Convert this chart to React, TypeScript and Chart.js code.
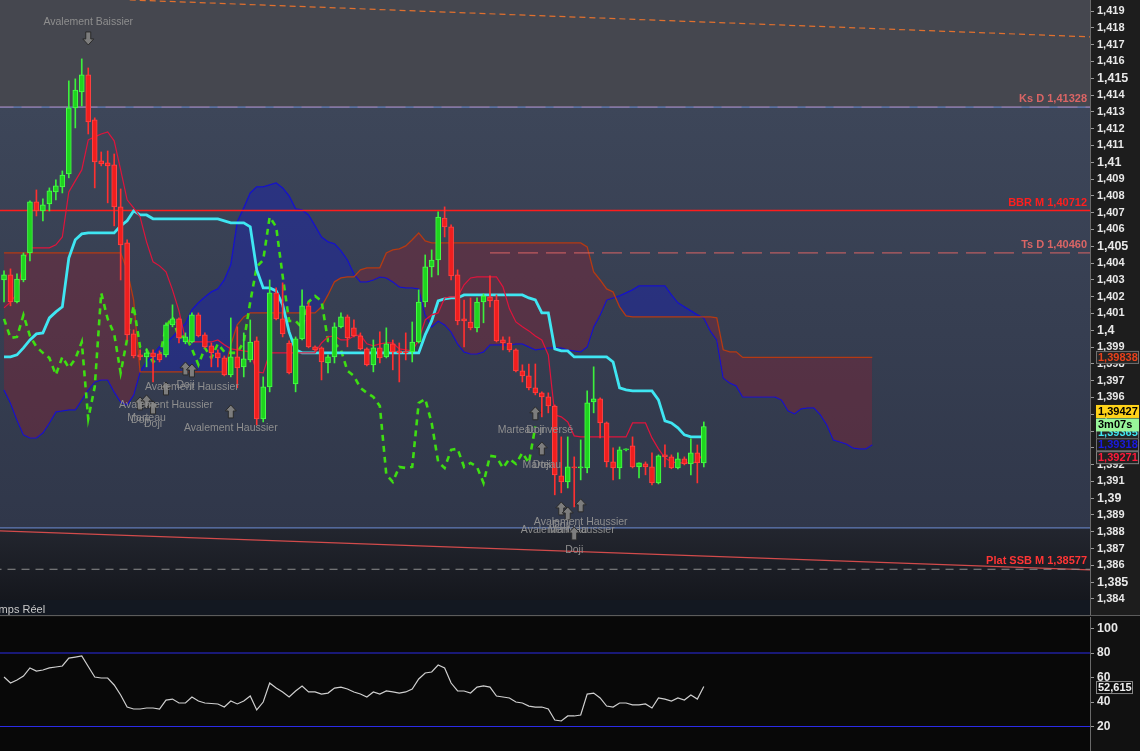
import React, { useEffect, useRef } from "react";
import { Chart, registerables } from "chart.js";

Chart.register(...registerables);

const FONT = 'Arial, "Liberation Sans", sans-serif';
Chart.defaults.font.family = FONT;

// axe des bougies : index 0 = première bougie visible, le nuage est décalé de 26 vers l'avant
const X_MIN = -0.62;
const X_MAX = 167.6;
const CHIKOU_SHIFT = 26;

const opens = [
  1.40299, 1.40329, 1.40168, 1.40299, 1.4046, 1.40764, 1.4071, 1.40752, 1.40823, 1.40853,
  1.4093, 1.41323, 1.41418, 1.4152, 1.41252, 1.41008, 1.40996, 1.40984, 1.40734, 1.4052,
  1.39978, 1.39853, 1.39841, 1.39865, 1.39859, 1.39853, 1.40032, 1.40067, 1.3993, 1.3993,
  1.40091, 1.39972, 1.39907, 1.39865, 1.39835, 1.39734, 1.39841, 1.39782, 1.39823, 1.39936,
  1.39472, 1.39663, 1.40222, 1.40067, 1.39924, 1.3968, 1.39948, 1.40145, 1.39901, 1.39895,
  1.39805, 1.39841, 1.4002, 1.40079, 1.40014, 1.39966, 1.39889, 1.39794, 1.39895, 1.39841,
  1.39919, 1.39877, 1.39871, 1.39871, 1.3993, 1.40168, 1.40377, 1.40418, 1.40668, 1.40615,
  1.40329, 1.40067, 1.40049, 1.40014, 1.40168, 1.40198, 1.4018, 1.39942, 1.39924, 1.39883,
  1.39758, 1.39728, 1.39657, 1.39627, 1.39603, 1.39549, 1.39133, 1.39097, 1.39186, 1.3918,
  1.3918, 1.39573, 1.39591, 1.39448, 1.39216, 1.3918, 1.39288, 1.39311, 1.39186, 1.39204,
  1.39186, 1.39091, 1.39258, 1.39246, 1.3918, 1.39234, 1.39204, 1.3927, 1.3921,
];
const highs = [
  1.40353, 1.40365, 1.40335, 1.4046, 1.4077, 1.40835, 1.40782, 1.40847, 1.40895, 1.40948,
  1.41484, 1.41496, 1.41615, 1.41561, 1.41264, 1.41061, 1.41067, 1.41049, 1.40841, 1.40538,
  1.40002, 1.39883, 1.39889, 1.39883, 1.39877, 1.40044, 1.40151, 1.40073, 1.39984, 1.40103,
  1.40103, 1.39984, 1.39924, 1.39883, 1.39847, 1.40073, 1.4002, 1.39984, 1.40061, 1.3996,
  1.39722, 1.40299, 1.40252, 1.40282, 1.39936, 1.3996, 1.4024, 1.40163, 1.39907, 1.39901,
  1.39853, 1.40044, 1.40103, 1.40091, 1.40061, 1.39984, 1.39895, 1.39942, 1.3999, 1.40014,
  1.39942, 1.39924, 1.39984, 1.40049, 1.4024, 1.40448, 1.40478, 1.40704, 1.40734, 1.40627,
  1.40359, 1.4018, 1.40192, 1.40192, 1.40216, 1.40323, 1.4021, 1.3996, 1.3996, 1.39889,
  1.39794, 1.39799, 1.39799, 1.39633, 1.39627, 1.39555, 1.39365, 1.39365, 1.39246, 1.39347,
  1.39639, 1.39782, 1.39597, 1.39454, 1.393, 1.39305, 1.39294, 1.39365, 1.3921, 1.39216,
  1.3927, 1.39258, 1.39317, 1.39258, 1.3927, 1.39246, 1.39353, 1.39317, 1.39454,
];
const lows = [
  1.40168, 1.40145, 1.40163, 1.40288, 1.40413, 1.4068, 1.40651, 1.4071, 1.40776, 1.40817,
  1.40907, 1.41204, 1.41335, 1.41168, 1.40847, 1.40978, 1.40758, 1.40621, 1.40299, 1.39942,
  1.39835, 1.39823, 1.39782, 1.39692, 1.39811, 1.39841, 1.4002, 1.39924, 1.39919, 1.39924,
  1.3996, 1.39895, 1.39782, 1.39782, 1.39728, 1.39722, 1.39657, 1.39722, 1.39811, 1.39436,
  1.39454, 1.39633, 1.40061, 1.3996, 1.3974, 1.39633, 1.39942, 1.39895, 1.39877, 1.39704,
  1.39746, 1.39805, 1.40014, 1.39901, 1.3996, 1.39883, 1.39788, 1.39752, 1.39805, 1.39835,
  1.39764, 1.39692, 1.39823, 1.39811, 1.39924, 1.40139, 1.40317, 1.40329, 1.40555, 1.40299,
  1.40032, 1.39901, 1.40002, 1.3999, 1.40044, 1.40139, 1.3993, 1.39883, 1.39871, 1.39752,
  1.39692, 1.39645, 1.39615, 1.39484, 1.39508, 1.3902, 1.39032, 1.39061, 1.38948, 1.39109,
  1.39151, 1.39508, 1.39359, 1.39186, 1.39109, 1.39115, 1.39282, 1.3918, 1.39121, 1.39139,
  1.39079, 1.39085, 1.39186, 1.39175, 1.39175, 1.39198, 1.39139, 1.39091, 1.39186,
];
const closes = [
  1.40329, 1.40168, 1.40305, 1.40448, 1.40764, 1.4071, 1.40746, 1.40829, 1.40859, 1.40924,
  1.41323, 1.4143, 1.4152, 1.4124, 1.41002, 1.4099, 1.40978, 1.40734, 1.40508, 1.39972,
  1.39847, 1.39841, 1.39865, 1.39841, 1.39823, 1.40032, 1.40067, 1.39954, 1.3996, 1.40091,
  1.39966, 1.39901, 1.39865, 1.39835, 1.39734, 1.39841, 1.39776, 1.39829, 1.3993, 1.39472,
  1.39663, 1.40222, 1.40067, 1.39978, 1.39746, 1.39948, 1.40145, 1.39901, 1.39883, 1.39811,
  1.39841, 1.4002, 1.40079, 1.39954, 1.39966, 1.39889, 1.39794, 1.39895, 1.39835, 1.39919,
  1.39871, 1.39865, 1.39865, 1.3993, 1.40168, 1.40377, 1.40418, 1.40674, 1.40615, 1.40323,
  1.40055, 1.40055, 1.40014, 1.40168, 1.40204, 1.40174, 1.39936, 1.39924, 1.39883, 1.39758,
  1.39728, 1.39657, 1.39627, 1.39603, 1.39549, 1.39139, 1.39097, 1.39186, 1.3918, 1.39186,
  1.39567, 1.39591, 1.39448, 1.39216, 1.3918, 1.39288, 1.39294, 1.39186, 1.3921, 1.39186,
  1.39091, 1.39252, 1.39246, 1.3918, 1.39234, 1.39204, 1.3927, 1.3921, 1.39427,
];

const tenkan = [
  1.40133, 1.40168, 1.40216, 1.40407, 1.4049, 1.4049, 1.4049, 1.4049, 1.40508, 1.40555,
  1.40823, 1.40889, 1.40954, 1.41133, 1.41151, 1.41168, 1.4118, 1.41127, 1.40954, 1.40776,
  1.40728, 1.40674, 1.40526, 1.40407, 1.40383, 1.40347, 1.4024, 1.40115, 1.39942, 1.3993,
  1.3993, 1.3993, 1.3993, 1.39942, 1.39913, 1.39889, 1.39883, 1.39877, 1.39871, 1.39752,
  1.39746, 1.39865, 1.39865, 1.39865, 1.39865, 1.39865, 1.39865, 1.39865, 1.39865, 1.39924,
  1.3996, 1.39966, 1.39942, 1.39942, 1.39966, 1.39972, 1.39919, 1.39907, 1.39919, 1.39924,
  1.39924, 1.39889, 1.39883, 1.39877, 1.39942, 1.40061, 1.40091, 1.40103, 1.40192, 1.40198,
  1.40198, 1.4027, 1.40311, 1.40317, 1.40317, 1.40317, 1.40317, 1.40258, 1.40127, 1.40049,
  1.4002, 1.39996, 1.39966, 1.39942, 1.39853, 1.39496, 1.39484, 1.39454, 1.39371, 1.39365,
  1.39365, 1.39365, 1.39365, 1.39365, 1.39365, 1.39365, 1.39365, 1.39448, 1.39448, 1.39448,
  1.39359, 1.39294, 1.3924, 1.39216, 1.3921, 1.3921, 1.3921, 1.39216, 1.39271,
];
const kijun = [
  1.39841, 1.39841, 1.39853, 1.39895, 1.39942, 1.39978, 1.39984, 1.40073, 1.40109, 1.40139,
  1.4043, 1.40538, 1.40573, 1.40579, 1.40579, 1.40579, 1.40579, 1.40579, 1.40621, 1.40651,
  1.4071, 1.40686, 1.40686, 1.40663, 1.40663, 1.40663, 1.40663, 1.40663, 1.40663, 1.40663,
  1.40663, 1.40663, 1.40663, 1.40663, 1.40651, 1.40639, 1.40639, 1.40639, 1.40615, 1.40359,
  1.40252, 1.40252, 1.40234, 1.40151, 1.3999, 1.39883, 1.39865, 1.39865, 1.39865, 1.39865,
  1.39865, 1.39865, 1.39865, 1.39865, 1.39865, 1.39865, 1.39865, 1.39865, 1.39865, 1.39865,
  1.39865, 1.39865, 1.39865, 1.39865, 1.39865, 1.39972, 1.40055, 1.40174, 1.40186, 1.40192,
  1.40192, 1.4021, 1.4021, 1.4021, 1.4021, 1.4021, 1.4021, 1.4021, 1.4021, 1.4021,
  1.4021, 1.40192, 1.4018, 1.40103, 1.40103, 1.39889, 1.39877, 1.39877, 1.39841, 1.39841,
  1.39841, 1.39841, 1.39841, 1.39841, 1.39811, 1.39657, 1.39645, 1.39639, 1.39639, 1.39639,
  1.39639, 1.39585, 1.3946, 1.39448, 1.39419, 1.39377, 1.39365, 1.39365, 1.39365,
];
const senkouA = [
  1.4046, 1.4046, 1.4046, 1.4046, 1.4046, 1.4046, 1.4046, 1.4046, 1.4046, 1.4046,
  1.4046, 1.4046, 1.4046, 1.4046, 1.4046, 1.4046, 1.4046, 1.4046, 1.4046, 1.40359,
  1.4018, 1.39752, 1.39752, 1.39752, 1.39752, 1.39752, 1.39752, 1.39752, 1.39752, 1.39752,
  1.39752, 1.39752, 1.39752, 1.39752, 1.39752, 1.39913, 1.40032, 1.40079, 1.40103, 1.40103,
  1.40103, 1.40103, 1.40103, 1.40103, 1.40103, 1.40103, 1.40103, 1.40103, 1.40103, 1.40139,
  1.4021, 1.40288, 1.40311, 1.40317, 1.40317, 1.40359, 1.40371, 1.40371, 1.40371, 1.4046,
  1.40478, 1.40484, 1.40502, 1.40538, 1.40579, 1.40532, 1.4052, 1.4052, 1.4052, 1.4052,
  1.4052, 1.4052, 1.4052, 1.4052, 1.4052, 1.4052, 1.4052, 1.4052, 1.4052, 1.4052,
  1.4052, 1.4052, 1.4052, 1.4052, 1.4052, 1.4052, 1.4052, 1.4052, 1.4052, 1.4052,
  1.40496, 1.40347, 1.40299, 1.40246, 1.40228, 1.40139, 1.40085, 1.40079, 1.40079, 1.40079,
  1.40079, 1.40079, 1.40079, 1.40079, 1.40079, 1.40079, 1.40079, 1.40079, 1.40079, 1.40079,
  1.40073, 1.39883, 1.39871, 1.39871, 1.39838, 1.39838, 1.39838, 1.39838, 1.39838, 1.39838,
  1.39838, 1.39838, 1.39838, 1.39838, 1.39838, 1.39838, 1.39838, 1.39838, 1.39838, 1.39838,
  1.39838, 1.39838, 1.39838, 1.39838, 1.39838,
];
const senkouB = [
  1.39645, 1.39567, 1.39466, 1.39377, 1.39359, 1.39359, 1.39389, 1.39448, 1.39514, 1.3952,
  1.39526, 1.39526, 1.39585, 1.39645, 1.39692, 1.39704, 1.39704, 1.39633, 1.39573, 1.39555,
  1.39615, 1.39752, 1.39811, 1.39853, 1.39901, 1.39924, 1.3996, 1.40002, 1.40038, 1.40121,
  1.40163, 1.40198, 1.40228, 1.40246, 1.40299, 1.40389, 1.40645, 1.40728, 1.40817, 1.40853,
  1.40853, 1.40865, 1.40877, 1.40847, 1.40799, 1.40722, 1.40716, 1.40686, 1.40621, 1.40555,
  1.40526, 1.40514, 1.40472, 1.40418, 1.40335, 1.40288, 1.40288, 1.40299, 1.40317, 1.40311,
  1.40288, 1.40258, 1.40252, 1.40252, 1.40246, 1.40091, 1.4002, 1.40055, 1.40032, 1.3999,
  1.39919, 1.39871, 1.39859, 1.39859, 1.39871, 1.39913, 1.39913, 1.39913, 1.39913, 1.39919,
  1.39919, 1.39901, 1.39883, 1.39889, 1.39895, 1.39895, 1.39895, 1.39883, 1.39877, 1.39871,
  1.39901, 1.4002, 1.40091, 1.4018, 1.40192, 1.40204, 1.40222, 1.4024, 1.40264, 1.40264,
  1.40264, 1.40264, 1.40264, 1.4021, 1.40163, 1.40139, 1.40115, 1.40091, 1.40073, 1.39996,
  1.39942, 1.39716, 1.39686, 1.39669, 1.39603, 1.39603, 1.39603, 1.39603, 1.39603, 1.39603,
  1.39585, 1.3952, 1.39502, 1.39532, 1.39538, 1.39538, 1.39496, 1.39436, 1.39347, 1.39335,
  1.39323, 1.393, 1.39294, 1.39294, 1.39318,
];

const rsi = [
  60.4, 55.5, 58.0, 61.2, 67.8, 65.3, 66.1, 67.8, 68.6, 69.4,
  75.9, 76.7, 77.6, 69.0, 60.4, 59.6, 59.6, 53.9, 45.7, 35.9,
  34.3, 34.3, 35.1, 35.1, 34.3, 41.6, 42.4, 39.2, 39.2, 44.1,
  40.8, 39.2, 38.8, 38.4, 35.9, 40.8, 38.4, 40.8, 44.9, 33.5,
  40.0, 55.5, 51.4, 48.2, 44.1, 49.0, 53.1, 48.2, 48.2, 46.5,
  47.3, 51.4, 52.2, 50.6, 48.2, 46.5, 44.1, 48.2, 46.5, 49.0,
  48.2, 47.3, 48.2, 50.6, 58.8, 63.7, 64.5, 70.2, 67.8, 55.5,
  49.0, 49.0, 47.3, 52.2, 53.1, 52.2, 44.9, 44.1, 43.3, 40.0,
  39.2, 36.7, 35.9, 35.9, 34.3, 25.3, 24.5, 28.6, 28.6, 29.4,
  46.5, 47.3, 43.3, 36.7, 35.9, 39.2, 39.2, 37.6, 37.6, 38.4,
  35.1, 43.3, 42.4, 40.8, 43.3, 41.6, 45.7, 42.4, 52.615,
];

const priceTicks = [
  1.384, 1.385, 1.386, 1.387, 1.388, 1.389, 1.39, 1.391, 1.392, 1.393, 1.394, 1.395,
  1.396, 1.397, 1.398, 1.399, 1.4, 1.401, 1.402, 1.403, 1.404, 1.405, 1.406, 1.407,
  1.408, 1.409, 1.41, 1.411, 1.412, 1.413, 1.414, 1.415, 1.416, 1.417, 1.418, 1.419,
];
const rsiTicks = [20, 40, 60, 80, 100];
const rsiLevels = [80, 20];

// niveaux horizontaux
const levelNames = ["Ks D", "BBR M", "Ts D", "Plat SSB M"];
const levelValues = [1.41328, 1.40712, 1.4046, 1.38577];
const levelColors = ["#da6565", "#ff1e1e", "#da6565", "#ff3535"];
const zoneHigh = 1.41328;
const zoneLow = 1.38823;
const tsStart = 75;

const orangeTrend = [
  { x: 19.4, y: 1.41966 },
  { x: 167.6, y: 1.41746 },
];
const redTrend = [
  { x: -0.62, y: 1.38805 },
  { x: 167.6, y: 1.38573 },
];

const patterns = [
  { i: 13, price: 1.41698, dir: "down", labels: ["Avalement Baissier"] },
  { i: 21, price: 1.39603, dir: "up", labels: ["Doji"] },
  { i: 22, price: 1.39615, dir: "up", labels: ["Marteau"] },
  { i: 23, price: 1.39579, dir: "up", labels: ["Doji"] },
  { i: 25, price: 1.39692, dir: "up", labels: ["Avalement Haussier"] },
  { i: 28, price: 1.39811, dir: "up", labels: ["Doji"] },
  { i: 29, price: 1.39799, dir: "up", labels: ["Avalement Haussier"] },
  { i: 35, price: 1.39555, dir: "up", labels: ["Avalement Haussier"] },
  { i: 82, price: 1.39544, dir: "up", labels: ["Marteau inversé", "Doji"] },
  { i: 83, price: 1.39335, dir: "up", labels: ["Marteau", "Doji"] },
  { i: 86, price: 1.38978, dir: "up", labels: ["Doji"] },
  { i: 87, price: 1.38948, dir: "up", labels: ["Avalement Haussier", "Marteau"] },
  { i: 88, price: 1.38829, dir: "up", labels: ["Doji"] },
  { i: 89, price: 1.38996, dir: "up", labels: ["Avalement Haussier"] },
];

const timerText = "3m07s";
const panelTitle = "Temps Réel";

const RED_CLOUD = "rgba(130, 35, 55, 0.42)";
const BLUE_CLOUD = "rgba(22, 32, 185, 0.42)";

const fmt5 = (v: number) => v.toFixed(5).replace(".", ",");
const fmtTick = (v: number) =>
  v.toFixed(3).replace(/0+$/, "").replace(/\.$/, "").replace(".", ",");
const pts = (arr: number[], from = 0) => arr.map((v, i) => ({ x: i + from, y: v }));
const hline = (v: number, from = X_MIN - 1, to = X_MAX + 1) => [
  { x: from, y: v },
  { x: to, y: v },
];

function fixAxis(scale: any) {
  scale.width = 50;
  scale.paddingTop = 0;
  scale.paddingBottom = 0;
}

function drawTag(ctx: CanvasRenderingContext2D, x: number, cy: number, w: number, text: string, bg: string, fg: string, border?: string) {
  ctx.fillStyle = bg;
  ctx.fillRect(x, cy - 6.5, w, 13);
  if (border) {
    ctx.strokeStyle = border;
    ctx.lineWidth = 1;
    ctx.strokeRect(x + 0.5, cy - 6, w - 1, 12);
  }
  ctx.fillStyle = fg;
  ctx.font = `bold 11px ${FONT}`;
  ctx.textAlign = "left";
  ctx.textBaseline = "middle";
  ctx.fillText(text, x + 2, cy + 0.5);
}

function drawArrow(ctx: CanvasRenderingContext2D, x: number, tip: number, dir: string) {
  const s = dir === "up" ? 1 : -1;
  ctx.beginPath();
  ctx.moveTo(x, tip);
  ctx.lineTo(x + 5.5, tip + 6 * s);
  ctx.lineTo(x + 2.5, tip + 6 * s);
  ctx.lineTo(x + 2.5, tip + 13 * s);
  ctx.lineTo(x - 2.5, tip + 13 * s);
  ctx.lineTo(x - 2.5, tip + 6 * s);
  ctx.lineTo(x - 5.5, tip + 6 * s);
  ctx.closePath();
  ctx.fillStyle = "#7d7d7d";
  ctx.fill();
  ctx.strokeStyle = "#2a2a2a";
  ctx.lineWidth = 1;
  ctx.stroke();
}

const tickValue = (c: any) => (c && c.tick ? Number(c.tick.value) : 0);

const mainBg = {
  id: "mainBg",
  beforeDraw(chart: any) {
    const { ctx, width, height, chartArea: a, scales } = chart;
    const yHi = scales.y.getPixelForValue(zoneHigh);
    const yLo = scales.y.getPixelForValue(zoneLow);
    const strip = a.bottom - 16;
    ctx.save();
    ctx.fillStyle = "#1d1d1d";
    ctx.fillRect(0, 0, width, height);
    ctx.fillStyle = "#45474f";
    ctx.fillRect(a.left, a.top, a.width, yHi - a.top);
    let g = ctx.createLinearGradient(0, yHi, 0, yLo);
    g.addColorStop(0, "#3d4659");
    g.addColorStop(1, "#30374a");
    ctx.fillStyle = g;
    ctx.fillRect(a.left, yHi, a.width, yLo - yHi);
    g = ctx.createLinearGradient(0, yLo, 0, strip);
    g.addColorStop(0, "#23262f");
    g.addColorStop(1, "#15171d");
    ctx.fillStyle = g;
    ctx.fillRect(a.left, yLo, a.width, strip - yLo);
    // bandeau du panneau inférieur
    ctx.fillStyle = "#131821";
    ctx.fillRect(a.left, strip, a.width, a.bottom - strip);
    ctx.fillStyle = "#c9c9c9";
    ctx.font = `11px ${FONT}`;
    ctx.textAlign = "left";
    ctx.textBaseline = "alphabetic";
    ctx.fillText(panelTitle, -13, a.bottom - 3);
    ctx.restore();
  },
};

const mainOverlay = {
  id: "mainOverlay",
  afterDatasetsDraw(chart: any) {
    const { ctx, chartArea: a, scales } = chart;
    const x = scales.x;
    const y = scales.y;
    ctx.save();
    // noms des niveaux
    ctx.font = `bold 11px ${FONT}`;
    ctx.textAlign = "right";
    ctx.textBaseline = "alphabetic";
    levelValues.forEach((v, k) => {
      ctx.fillStyle = levelColors[k];
      ctx.fillText(`${levelNames[k]} ${fmt5(v)}`, a.right - 3, y.getPixelForValue(v) - 5);
    });
    // figures de chandeliers
    ctx.font = `10.5px ${FONT}`;
    ctx.textAlign = "center";
    ctx.textBaseline = "middle";
    patterns.forEach((p) => {
      const px = x.getPixelForValue(p.i);
      const tip = y.getPixelForValue(p.price);
      drawArrow(ctx, px, tip, p.dir);
      const ty = p.dir === "up" ? tip + 23 : tip - 23;
      ctx.fillStyle = "#8e8e8e";
      p.labels.forEach((t) => ctx.fillText(t, px, ty));
    });
    ctx.restore();
  },
  afterDraw(chart: any) {
    const { ctx, width, chartArea: a, scales } = chart;
    const y = scales.y;
    const last = closes[closes.length - 1];
    const ssa = senkouA[senkouA.length - 1];
    const ssb = senkouB[senkouB.length - 1];
    const kij = kijun[kijun.length - 1];
    const ten = tenkan[tenkan.length - 1];
    const x0 = 1096;
    ctx.save();
    drawTag(ctx, x0, y.getPixelForValue(ssa), 43, fmt5(ssa), "#242424", "#e8401a", "#707070");
    drawTag(ctx, x0, y.getPixelForValue(kij) - 4, 43, fmt5(kij), "#242424", "#3fe7f2", "#707070");
    drawTag(ctx, x0, y.getPixelForValue(ssb), 43, fmt5(ssb), "#1c1c1c", "#1a1ae0", "#707070");
    drawTag(ctx, x0, y.getPixelForValue(ten) + 5, 43, fmt5(ten), "#222222", "#ff1a3a", "#808080");
    drawTag(ctx, x0, y.getPixelForValue(last) - 1.5, 43, timerText, "#98f59a", "#000000");
    drawTag(ctx, x0, y.getPixelForValue(last) - 15, 43, fmt5(last), "#ffd319", "#000000");
    // séparateur avec le panneau RSI
    ctx.fillStyle = "#5c5c5c";
    ctx.fillRect(0, a.bottom - 1, width, 1);
    ctx.restore();
  },
};

const rsiBg = {
  id: "rsiBg",
  beforeDraw(chart: any) {
    const { ctx, width, height, chartArea: a } = chart;
    ctx.save();
    ctx.fillStyle = "#111111";
    ctx.fillRect(0, 0, width, height);
    ctx.fillStyle = "#080808";
    ctx.fillRect(a.left, a.top, a.width, a.height);
    ctx.restore();
  },
  afterDraw(chart: any) {
    const { ctx, scales } = chart;
    const v = rsi[rsi.length - 1];
    ctx.save();
    drawTag(ctx, 1096, scales.y.getPixelForValue(v) + 1, 37, v.toFixed(3).replace(".", ","), "#0d0d0d", "#f0f0f0", "#8a8a8a");
    ctx.restore();
  },
};

function mainConfig() {
  const up = closes.map((c, i) => c >= opens[i]);
  const levelLine = (data: any[], color: string, width: number, dash: number[] = []) => ({
    type: "line",
    data,
    borderColor: color,
    borderWidth: width,
    borderDash: dash,
    pointRadius: 0,
    fill: false,
    order: 3,
  });
  return {
    type: "bar",
    data: {
      datasets: [
        {
          type: "bar",
          data: opens.map((o, i) => ({ x: i, y: [o, closes[i]] })),
          backgroundColor: up.map((u) => (u ? "#1fd41f" : "#f01e1e")),
          borderColor: up.map((u) => (u ? "#48ff48" : "#ff4444")),
          borderWidth: 1,
          borderSkipped: false,
          barThickness: 5,
          minBarLength: 1,
          grouped: false,
          order: 0,
        },
        {
          type: "bar",
          data: lows.map((l, i) => ({ x: i, y: [l, highs[i]] })),
          backgroundColor: up.map((u) => (u ? "#3cf03c" : "#ff3030")),
          borderWidth: 0,
          barThickness: 1,
          grouped: false,
          order: 1,
        },
        {
          type: "line",
          data: pts(tenkan),
          borderColor: "#e0143c",
          borderWidth: 1.2,
          pointRadius: 0,
          order: 2,
        },
        {
          type: "line",
          data: pts(kijun),
          borderColor: "#3fe6f2",
          borderWidth: 2.8,
          pointRadius: 0,
          order: 2,
        },
        {
          type: "line",
          data: pts(closes.slice(CHIKOU_SHIFT)),
          borderColor: "#3ede12",
          borderWidth: 2.6,
          borderDash: [6, 5],
          pointRadius: 0,
          order: 2,
        },
        {
          type: "line",
          data: pts(senkouA),
          borderColor: "#b53a12",
          borderWidth: 1.3,
          pointRadius: 0,
          fill: { target: "+1", above: RED_CLOUD, below: BLUE_CLOUD },
          order: 4,
        },
        {
          type: "line",
          data: pts(senkouB),
          borderColor: "#1010d8",
          borderWidth: 1.3,
          pointRadius: 0,
          fill: false,
          order: 4,
        },
        levelLine(hline(levelValues[0]), "#6f8fd8", 1),
        levelLine(hline(levelValues[0]), "#da6565", 1, [20, 8]),
        levelLine(hline(levelValues[1]), "#ff1c1c", 1.5),
        levelLine(hline(levelValues[2], tsStart), "#da6565", 1, [20, 8]),
        levelLine(hline(zoneLow), "#6f8fd8", 1),
        levelLine(hline(levelValues[3]), "#8e8e8e", 1, [8, 6]),
        levelLine(redTrend, "#d24b4b", 1.2),
        levelLine(orangeTrend, "#e0702e", 1.2, [6, 4]),
      ],
    },
    options: {
      animation: false,
      responsive: false,
      events: [],
      layout: { padding: 0 },
      plugins: { legend: { display: false }, tooltip: { enabled: false } },
      scales: {
        x: { type: "linear", min: X_MIN, max: X_MAX, display: false, offset: false },
        y: {
          position: "right",
          min: 1.382988,
          max: 1.419655,
          afterFit: fixAxis,
          afterBuildTicks: (s: any) => {
            s.ticks = priceTicks.map((v) => ({ value: v }));
          },
          ticks: {
            color: "#e8e8e8",
            padding: 3,
            autoSkip: false,
            callback: (v: any) => fmtTick(Number(v)),
            font: (c: any) => ({
              family: FONT,
              weight: "bold",
              size: Math.round(tickValue(c) * 1000) % 5 === 0 ? 12.5 : 11,
            }),
          },
          grid: { drawOnChartArea: false, tickLength: 4, color: "#9a9a9a" },
          border: { color: "#6a6a6a" },
        },
      },
    },
    plugins: [mainBg, mainOverlay],
  };
}

function rsiConfig() {
  return {
    type: "line",
    data: {
      datasets: [
        {
          data: pts(rsi),
          borderColor: "#cfcfcf",
          borderWidth: 1.2,
          pointRadius: 0,
          order: 0,
        },
        ...rsiLevels.map((v) => ({
          data: hline(v),
          borderColor: "#2b2be6",
          borderWidth: 1.2,
          pointRadius: 0,
          order: 1,
        })),
      ],
    },
    options: {
      animation: false,
      responsive: false,
      events: [],
      layout: { padding: { top: 1 } },
      plugins: { legend: { display: false }, tooltip: { enabled: false } },
      scales: {
        x: { type: "linear", min: X_MIN, max: X_MAX, display: false },
        y: {
          position: "right",
          min: 0,
          max: 109.4,
          afterFit: fixAxis,
          afterBuildTicks: (s: any) => {
            s.ticks = rsiTicks.map((v) => ({ value: v }));
          },
          ticks: {
            color: "#e8e8e8",
            padding: 3,
            font: (c: any) => ({ family: FONT, weight: "bold", size: tickValue(c) === 100 ? 12.5 : 12 }),
          },
          grid: { drawOnChartArea: false, tickLength: 4, color: "#9a9a9a" },
          border: { color: "#6a6a6a" },
        },
      },
    },
    plugins: [rsiBg],
  };
}

export default function App() {
  const mainRef = useRef<HTMLCanvasElement>(null);
  const rsiRef = useRef<HTMLCanvasElement>(null);

  useEffect(() => {
    document.body.style.margin = "0";
    document.body.style.background = "#1d1d1d";
    const charts: Chart[] = [];
    if (mainRef.current) charts.push(new Chart(mainRef.current, mainConfig() as any));
    if (rsiRef.current) charts.push(new Chart(rsiRef.current, rsiConfig() as any));
    return () => {
      charts.forEach((c) => c.destroy());
    };
  }, []);

  return (
    <div style={{ position: "fixed", left: 0, top: 0, width: 1140, height: 751, overflow: "hidden" }}>
      <canvas ref={mainRef} width={1140} height={616} style={{ display: "block" }} />
      <canvas ref={rsiRef} width={1140} height={135} style={{ display: "block" }} />
    </div>
  );
}
